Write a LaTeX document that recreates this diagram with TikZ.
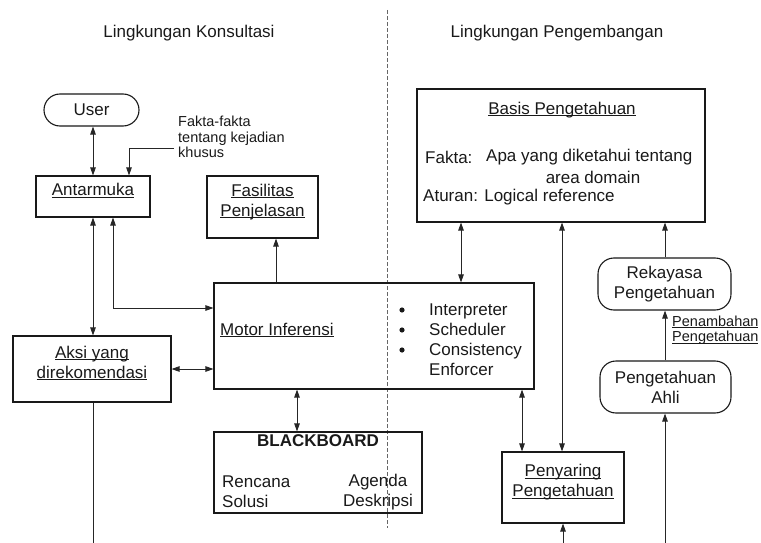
\documentclass[tikz,border=0pt]{standalone}
\usepackage{fontspec}
\setmainfont{Liberation Sans}
\usetikzlibrary{arrows.meta,calc}
\newcommand{\ulx}[1]{\underline{\smash{#1}}}
\begin{document}
\begin{tikzpicture}[x=1pt,y=-1pt,
  box/.style={draw=black!90, line width=1.1pt, inner sep=0pt, align=center, text=black!90, font=\fontsize{17}{20}\selectfont},
  rbox/.style={box, rounded corners=16pt},
  txt/.style={inner sep=0pt, text=black!90, font=\fontsize{17}{20}\selectfont},
  small/.style={inner sep=0pt, text=black!90, font=\fontsize{14.5}{15.5}\selectfont, align=left},
  conn/.style={line width=0.9pt, draw=black!85},
  tip/.style={-{Triangle[length=8pt,width=5.5pt]}},
  dtip/.style={{Triangle[length=8pt,width=5.5pt]}-{Triangle[length=8pt,width=5.5pt]}},
  sep/.style={draw=black!60, line width=1pt, dash pattern=on 4pt off 2pt}
]
\path[use as bounding box] (0,0) rectangle (761,543);

% titles
\node[txt] (t1) at (189,33) {Lingkungan Konsultasi};
\node[txt] (t2) at (557,33) {Lingkungan Pengembangan};

% separator
\coordinate (dtop) at (387,10);
\coordinate (dbot) at (387,528);
\draw[sep] (dtop) -- (dbot);

% left side boxes
\node[rbox, minimum width=95pt, minimum height=32pt] (user) at (91.5,110) {User};
\node[box, minimum width=114pt, minimum height=41pt] (antar) at (93,196.5) {\ulx{Antarmuka}};
\node[box, minimum width=111pt, minimum height=62pt] (fasil) at (262.5,207) {\ulx{Fasilitas}\\\ulx{Penjelasan}};
\node[box, minimum width=158pt, minimum height=66pt] (aksi) at (92,369) {\ulx{Aksi yang}\\\ulx{direkomendasi}};
\node[small, anchor=west] (fakta) at (178,137) {Fakta-fakta\\tentang kejadian\\khusus};

% motor inferensi
\node[box, minimum width=320pt, minimum height=106pt] (motor) at (374,336) {};
\node[txt, anchor=west] (motorlbl) at (220,336) {\ulx{Motor Inferensi}};
\node[txt, anchor=west, align=left] (list) at (429,340) {Interpreter\\Scheduler\\Consistency\\Enforcer};
\fill[black!90] (402,310) circle (2.6pt) (402,330) circle (2.6pt) (402,350) circle (2.6pt);

% blackboard
\node[box, minimum width=208pt, minimum height=81pt] (bb) at (318,472.5) {};
\node[txt, font=\bfseries\fontsize{17}{20}\selectfont] (bbt) at (318,441) {BLACKBOARD};
\node[txt, anchor=west, align=left] (ren) at (222,492) {Rencana\\Solusi};
\node[txt, align=center] (age) at (378,492) {Agenda\\Deskripsi};

% right side
\node[box, minimum width=288pt, minimum height=133pt] (basis) at (561,155.5) {};
\node[txt] (bt) at (562,115) {\ulx{Basis Pengetahuan}};
\node[txt, anchor=west] (f1) at (425,157) {Fakta:};
\node[txt, anchor=west] (f2) at (486,157) {Apa yang diketahui tentang};
\node[txt] (f3) at (593,177) {area domain};
\node[txt, anchor=west] (f4) at (423,197) {Aturan: Logical reference};

\node[rbox, minimum width=133pt, minimum height=52pt] (rek) at (664.5,284) {Rekayasa\\Pengetahuan};
\node[rbox, minimum width=131pt, minimum height=52pt] (ahli) at (665.5,387) {Pengetahuan\\Ahli};
\node[small, anchor=west] (pen) at (672,335) {\ulx{Penambahan}\\\ulx{Pengetahuan}};
\node[box, minimum width=122pt, minimum height=71pt] (peny) at (563,487.5) {\ulx{Penyaring}\\\ulx{Pengetahuan}};

% helper coordinates
\coordinate (xa) at (113,0);
\coordinate (xb) at (129,0);
\coordinate (xc) at (276,0);
\coordinate (xd) at (297,0);
\coordinate (xe) at (461,0);
\coordinate (xf) at (522,0);
\coordinate (xg) at (562,0);
\coordinate (xh) at (665,0);
\coordinate (yy) at (0,308);
\coordinate (yz) at (0,369);
\coordinate (fk) at (174,148);
\coordinate (b1) at (93,543);
\coordinate (b2) at (563,543);
\coordinate (b3) at (665,543);

% connectors
\draw[conn, dtip] (antar.north |- user.south) -- (antar.north);
\draw[conn, tip] (fk) -| (xb |- antar.north);
\draw[conn, dtip] (antar.south) -- (antar.south |- aksi.north);
\draw[conn, dtip] (xa |- antar.south) |- (motor.west |- yy);
\draw[conn, dtip] (aksi.east |- yz) -- (motor.west |- yz);
\draw[conn, tip] (xc |- motor.north) -- (xc |- fasil.south);
\draw[conn, dtip] (xd |- motor.south) -- (xd |- bb.north);
\draw[conn, dtip] (xe |- basis.south) -- (xe |- motor.north);
\draw[conn, dtip] (xg |- basis.south) -- (xg |- peny.north);
\draw[conn, dtip] (xf |- motor.south) -- (xf |- peny.north);
\draw[conn, tip] (xh |- rek.north) -- (xh |- basis.south);
\draw[conn, tip] (xh |- ahli.north) -- (xh |- rek.south);
\draw[conn, tip] (b3) -- (xh |- ahli.south);
\draw[conn, tip] (b2) -- (peny.south);
\draw[conn] (antar.south |- aksi.south) -- (b1);
\end{tikzpicture}
\end{document}
